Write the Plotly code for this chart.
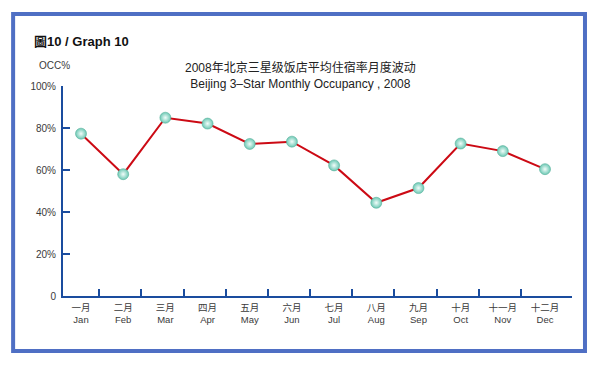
import plotly.graph_objects as go

months_cn = ["一月", "二月", "三月", "四月", "五月", "六月", "七月", "八月", "九月", "十月", "十一月", "十二月"]
months_en = ["Jan", "Feb", "Mar", "Apr", "May", "Jun", "Jul", "Aug", "Sep", "Oct", "Nov", "Dec"]
occupancy = [77.3, 58.0, 84.9, 82.1, 72.4, 73.5, 62.2, 44.4, 51.4, 72.6, 69.0, 60.4]
y_ticks = [0, 20, 40, 60, 80, 100]
y_tick_text = ["0", "20%", "40%", "60%", "80%", "100%"]

FONT = "Liberation Sans, Arial, Noto Sans CJK SC, sans-serif"
AXIS_BLUE = "#1a4c9e"
pos = list(range(len(months_en)))
boundaries = [i + 0.43 for i in range(len(months_en) - 1)]
xr = [-0.427, 11.64]

fig = go.Figure()
fig.add_trace(go.Scatter(
    x=pos, y=occupancy, mode="lines+markers",
    line=dict(color="#cc0a14", width=2),
    marker=dict(size=11, color="#6cc8b4",
                gradient=dict(type="radial", color="#f2fdfa"),
                line=dict(color="#55b09b", width=0.6)),
    hoverinfo="y", showlegend=False,
))
# invisible trace on label axis
fig.add_trace(go.Scatter(x=pos, y=occupancy, xaxis="x2", mode="none",
                         showlegend=False, hoverinfo="skip"))

fig.update_layout(
    width=600, height=366,
    margin=dict(l=63, r=28, t=86, b=70),
    paper_bgcolor="white", plot_bgcolor="white",
    font=dict(family=FONT, color="#3a3a3a", size=10),
    xaxis=dict(range=xr, showgrid=False, zeroline=False,
               showline=True, linecolor=AXIS_BLUE, linewidth=2,
               tickmode="array", tickvals=boundaries, ticks="inside",
               ticklen=7, tickwidth=2, tickcolor=AXIS_BLUE,
               showticklabels=False),
    xaxis2=dict(range=xr, overlaying="x", anchor="y", side="bottom",
                showgrid=False, zeroline=False, showline=False,
                tickmode="array", tickvals=pos,
                ticktext=[f"{c}<br>{e}" for c, e in zip(months_cn, months_en)],
                ticks="", ticklabelstandoff=4,
                tickfont=dict(size=9.5, color="#3a3a3a", family=FONT)),
    yaxis=dict(range=[0, 100], showgrid=False, zeroline=False,
               showline=True, linecolor=AXIS_BLUE, linewidth=2,
               tickmode="array", tickvals=y_ticks, ticktext=y_tick_text,
               ticks="inside", ticklen=7, tickwidth=2, tickcolor=AXIS_BLUE,
               tickfont=dict(size=10, color="#3a3a3a"), ticklabelstandoff=3),
    shapes=[dict(type="rect", xref="paper", yref="paper",
                 x0=-0.098, x1=1.0255, y0=-0.262, y1=1.343,
                 line=dict(color="#4f6fc4", width=4))],
    annotations=[
        dict(text="<b>圖10 / Graph 10</b>", xref="paper", yref="paper",
             x=(32 - 63) / 509, y=(296 - 41) / 210, xanchor="left", yanchor="middle",
             showarrow=False, font=dict(size=13, color="#111", family=FONT)),
        dict(text="OCC%", xref="paper", yref="paper",
             x=(37 - 63) / 509, y=(296 - 66) / 210, xanchor="left", yanchor="middle",
             showarrow=False, font=dict(size=10, color="#3a3a3a")),
        dict(text="2008年北京三星级饭店平均住宿率月度波动<br>Beijing 3–Star Monthly Occupancy , 2008",
             xref="paper", yref="paper",
             x=(300 - 63) / 509, y=(296 - 76) / 210, xanchor="center", yanchor="middle",
             showarrow=False, font=dict(size=12, color="#222"), align="center"),
    ],
)

fig.write_html("out.html", config={"displayModeBar": False},
               post_script="document.body.style.margin='0';document.body.style.padding='0';")
